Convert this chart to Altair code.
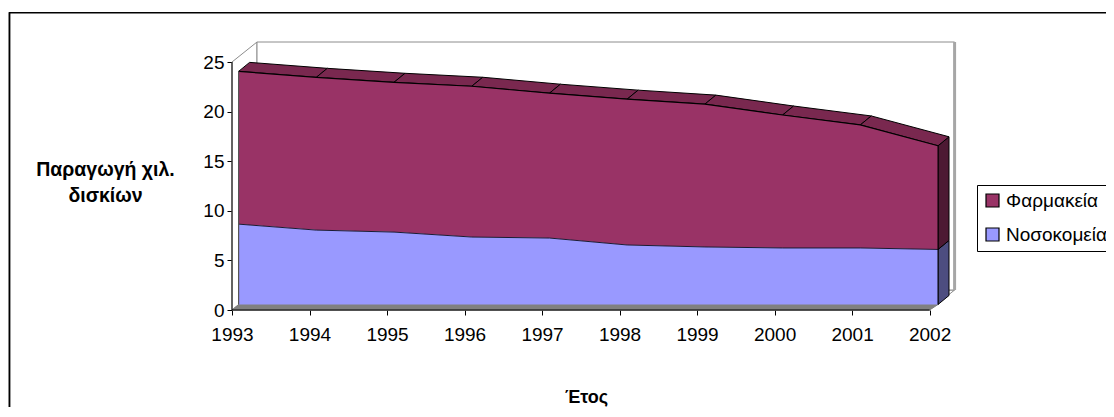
import altair as alt
import pandas as pd

years = [1993, 1994, 1995, 1996, 1997, 1998, 1999, 2000, 2001, 2002]
hospitals = [8.1, 7.5, 7.3, 6.8, 6.7, 6.0, 5.8, 5.7, 5.7, 5.55]
pharmacies = [15.4, 15.4, 15.1, 15.2, 14.6, 14.7, 14.4, 13.4, 12.4, 10.45]
name_ph = "Φαρμακεία"
name_ho = "Νοσοκομεία"
y_title = ["Παραγωγή χιλ.", "δισκίων"]
x_title = "Έτος"
y_ticks = [0, 5, 10, 15, 20, 25]

FONT = "Liberation Sans"
PX_X = 77.51   # pixels per year
PX_Y = 9.92    # pixels per unit
W, H = 723, 268
x_dom = [1993, 1993 + W / PX_X]
y_dom = [0, H / PX_Y]


def fx(year, px=0.0):
    return 1993 + (year - 1993) * 1.0026 + (6.6 + px) / PX_X


def fy(val, px=0.0):
    return val + (5.5 + px) / PX_Y


totals = [a + b for a, b in zip(hospitals, pharmacies)]

X = alt.X(
    "x:Q",
    scale=alt.Scale(domain=x_dom, nice=False, zero=False),
    axis=alt.Axis(
        values=years, format="d", grid=False, domain=False, tickSize=5, tickColor="black",
        labelFont=FONT, labelFontSize=19, labelColor="black", labelPadding=10, labelFlush=False,
        labelOverlap=False,
        title=x_title, titleFont=FONT, titleFontSize=18, titleFontWeight="bold", titleColor="black",
        titleX=354, titleY=87, titleAlign="center", titleBaseline="middle",
    ),
)
Y = alt.Y(
    "y:Q",
    scale=alt.Scale(domain=y_dom, nice=False, zero=False),
    axis=alt.Axis(
        values=y_ticks, grid=False, domain=False, tickSize=5, tickColor="black",
        labelFont=FONT, labelFontSize=19, labelColor="black", labelPadding=3,
        title=y_title, titleFont=FONT, titleFontSize=19.5, titleFontWeight="bold", titleColor="black",
        titleAngle=0, titleX=-127, titleY=137, titleAlign="center", titleLineHeight=26,
    ),
)


def poly(points, fill, stroke, width=1.0):
    closed = list(points) + [points[0]]
    df = pd.DataFrame({"x": [p[0] for p in closed], "y": [p[1] for p in closed], "i": range(len(closed))})
    kw = {"strokeWidth": width, "stroke": stroke, "fill": fill, "clip": False}
    return alt.Chart(df).mark_line(**kw).encode(x=X, y=Y, order=alt.Order("i:Q"))


def path(points, stroke, width=1.0):
    df = pd.DataFrame({"x": [p[0] for p in points], "y": [p[1] for p in points], "i": range(len(points))})
    return alt.Chart(df).mark_line(stroke=stroke, strokeWidth=width, clip=False).encode(
        x=X, y=Y, order=alt.Order("i:Q")
    )


GRAY = "#8c8c8c"
dw_x, dw_y = 25 / PX_X, 20 / PX_Y
layers = []

# page frame
layers.append(alt.Chart(pd.DataFrame({"a": [0]})).mark_rule(stroke="#a8a8a8", strokeWidth=1).encode(
    x=alt.value(-223.5), y=alt.value(-30), y2=alt.value(380)))
layers.append(alt.Chart(pd.DataFrame({"a": [0]})).mark_rule(stroke="black", strokeWidth=1.6).encode(
    x=alt.value(-222.4), y=alt.value(-29.2), y2=alt.value(380)))
layers.append(alt.Chart(pd.DataFrame({"a": [0]})).mark_rule(stroke="black", strokeWidth=1.6).encode(
    y=alt.value(-29.2), x=alt.value(-223), x2=alt.value(890)))

# walls
b0, b1 = 1993, 2002
layers.append(poly([(b0, 0), (b1, 0), (b1 + dw_x, dw_y), (b0 + dw_x, dw_y)], "white", GRAY))
layers.append(poly([(b0, 0), (b0 + dw_x, dw_y), (b0 + dw_x, 25 + dw_y), (b0, 25)], "white", GRAY))
layers.append(poly([(b0 + dw_x, dw_y), (b1 + dw_x, dw_y), (b1 + dw_x, 25 + dw_y), (b0 + dw_x, 25 + dw_y)], "white", GRAY))
layers.append(path([(b1 + dw_x, dw_y), (b1 + dw_x, 25 + dw_y)], "#a6a6a6", 3))
# floor strip in front of the series
layers.append(poly([(b0, 0), (fx(b0), fy(0)), (fx(b1), fy(0)), (b1, 0)], "#808080", "#808080"))

# side faces at the last year
layers.append(poly([(fx(b1), fy(0)), (fx(b1, 11), fy(0, 9)), (fx(b1, 11), fy(hospitals[-1], 9)), (fx(b1), fy(hospitals[-1]))],
                   "#4d4d80", "black"))
layers.append(poly([(fx(b1), fy(hospitals[-1])), (fx(b1, 11), fy(hospitals[-1], 9)), (fx(b1, 11), fy(totals[-1], 9)), (fx(b1), fy(totals[-1]))],
                   "#4d1933", "black"))

# top faces
for i in range(len(years) - 1):
    y0, y1 = years[i], years[i + 1]
    t0, t1 = totals[i], totals[i + 1]
    layers.append(poly([(fx(y0), fy(t0)), (fx(y1), fy(t1)), (fx(y1, 11), fy(t1, 9)), (fx(y0, 11), fy(t0, 9))],
                       "#79284f", "black"))

# front faces
front = pd.DataFrame(
    {
        "x": [fx(y) for y in years] * 2,
        "y": [fy(t) for t in totals] + [fy(h) for h in hospitals],
        "y2": [fy(h) for h in hospitals] + [fy(0)] * len(years),
        "series": [name_ph] * len(years) + [name_ho] * len(years),
    }
)
layers.append(
    alt.Chart(front).mark_area(interpolate="linear", clip=False, opacity=1).encode(
        x=X,
        y=Y,
        y2="y2:Q",
        color=alt.Color(
            "series:N",
            scale=alt.Scale(domain=[name_ph, name_ho], range=["#993366", "#9999ff"]),
            legend=alt.Legend(
                title=None, orient="none", legendX=745, legendY=143, symbolType="square", symbolSize=169,
                symbolStrokeColor="black", symbolStrokeWidth=1.2, symbolOpacity=1,
                labelFont=FONT, labelFontSize=19, labelColor="black", labelLimit=300,
                strokeColor="black", fillColor="white", padding=6, rowPadding=14,
                columnPadding=4, labelOffset=4,
            ),
        ),
    )
)
layers.append(path([(fx(y), fy(t)) for y, t in zip(years, totals)], "black", 1.2))
layers.append(path([(fx(y), fy(h)) for y, h in zip(years, hospitals)], "#1a1a33", 1))
layers.append(path([(fx(b1), fy(0)), (fx(b1), fy(totals[-1]))], "black", 1))
layers.append(path([(fx(b0), fy(0)), (fx(b0), fy(totals[0]))], "#555555", 1.2))

# axis lines
layers.append(path([(b0, 0), (b0, 25)], "black", 1))
layers.append(path([(b0, 0), (b1, 0)], "black", 1))

chart = (
    alt.layer(*layers)
    .properties(
        width=W,
        height=H,
        background="white",
        padding={"left": 224, "top": 34, "right": 151, "bottom": 97},
        autosize=alt.AutoSizeParams(type="none"),
    )
    .configure_view(stroke=None)
)
chart.save("out.html", embed_options={"renderer": "svg", "actions": False})
